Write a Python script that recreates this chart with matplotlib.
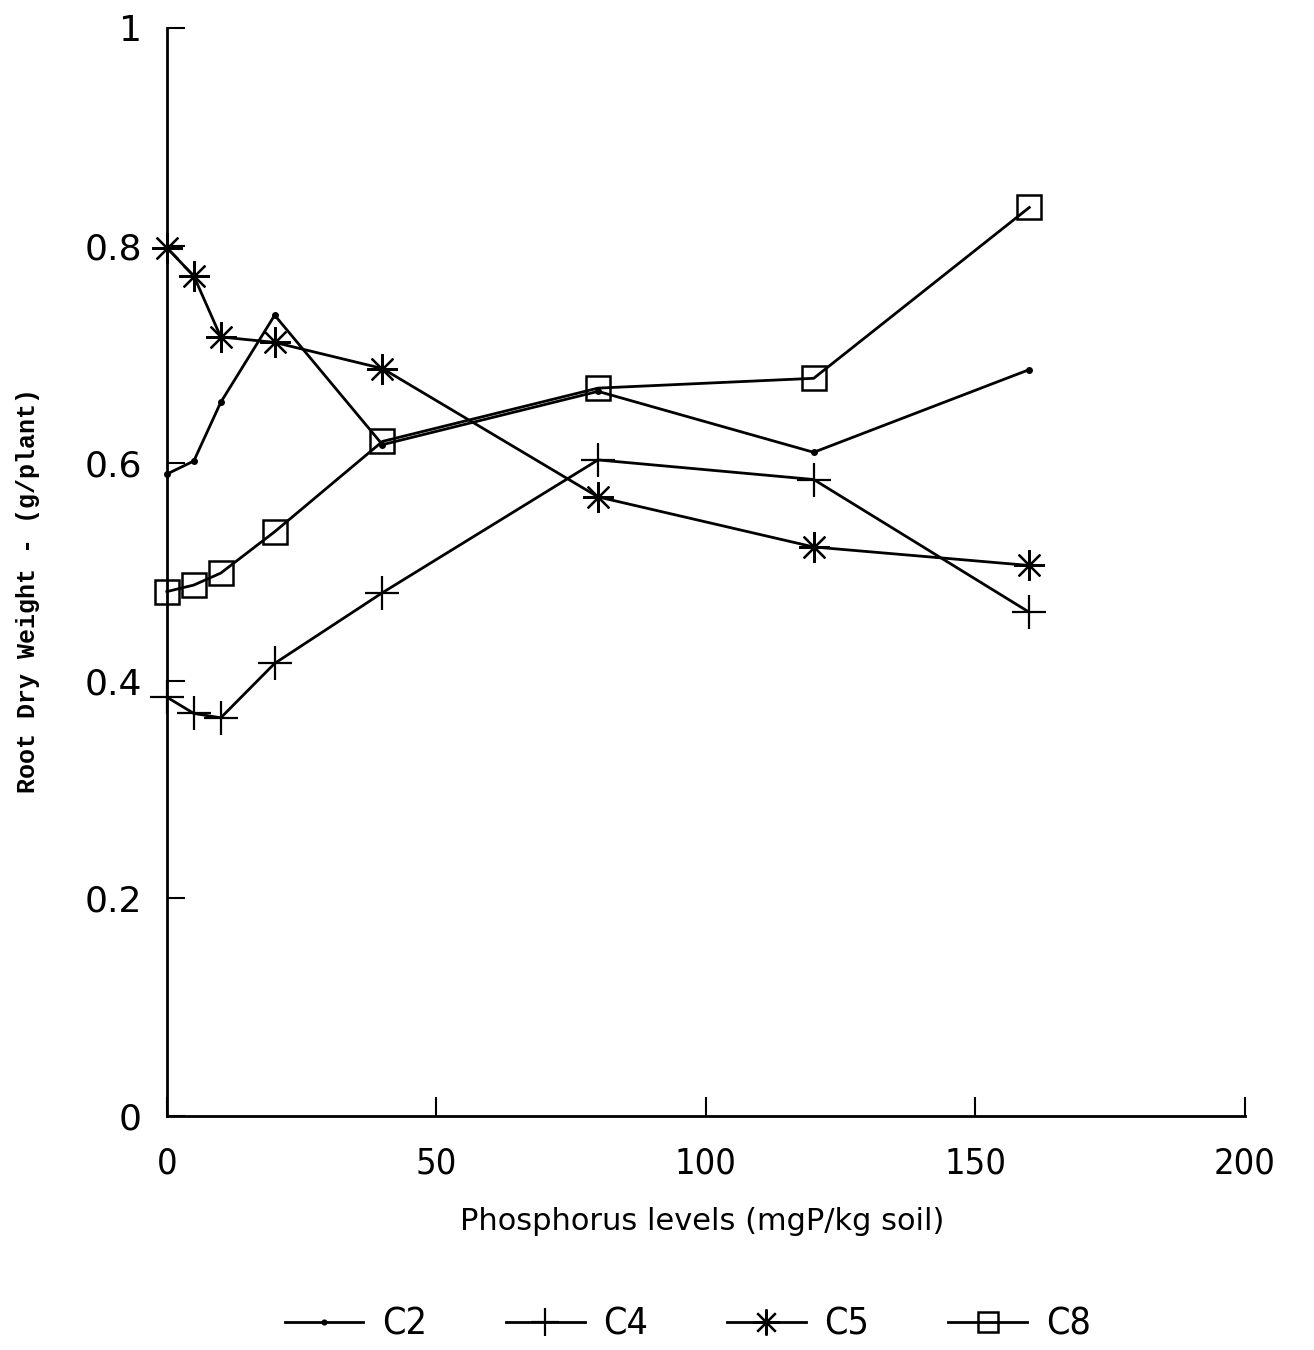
import matplotlib
matplotlib.use('Agg')
from matplotlib import pyplot as plt

# phosphorus levels (mgP/kg soil)
p_levels = [0, 5, 10, 20, 40, 80, 120, 160]

# root dry weight (g/plant) per cultivar
c2 = [0.590, 0.602, 0.656, 0.736, 0.617, 0.666, 0.610, 0.686]
c4 = [0.385, 0.370, 0.366, 0.416, 0.481, 0.603, 0.585, 0.463]
c5 = [0.798, 0.772, 0.716, 0.711, 0.687, 0.569, 0.523, 0.506]
c8 = [0.482, 0.488, 0.499, 0.537, 0.620, 0.669, 0.678, 0.835]

series_names = ['C2', 'C4', 'C5', 'C8']
x_ticks = [0, 50, 100, 150, 200]
y_ticks = [0, 0.2, 0.4, 0.6, 0.8, 1]
y_tick_labels = ['0', '0.2', '0.4', '0.6', '0.8', '1']

narrow = ['Liberation Sans Narrow', 'DejaVu Sans']

fig = plt.figure(figsize=(13.14, 13.5), dpi=100)
axes = fig.add_axes([0.127, 0.1733, 0.8204, 0.806])

styles = [
    dict(marker='o', markersize=4),
    dict(marker='+', markersize=24, markeredgewidth=1.6),
    dict(marker=(8, 2, 0), markersize=22, markeredgewidth=1.6),
    dict(marker='s', markersize=17, markeredgewidth=1.8,
         markerfacecolor='none'),
]
for name, values, style in zip(series_names, [c2, c4, c5, c8], styles):
    axes.plot(p_levels, values, color='black', linewidth=2,
              label=name, clip_on=False, **style)

axes.set_xlim(0, 200)
axes.set_ylim(0, 1)

for side in ['top', 'right']:
    axes.spines[side].set_visible(False)
for side in ['left', 'bottom']:
    axes.spines[side].set_linewidth(2)

axes.set_xticks(x_ticks)
axes.set_xticklabels([str(t) for t in x_ticks], family=narrow,
                     stretch='condensed', fontsize=26)
axes.set_yticks(y_ticks)
axes.set_yticklabels(y_tick_labels, family='DejaVu Sans', fontsize=26)
axes.tick_params(axis='x', direction='in', length=14, width=1.5, pad=22)
axes.tick_params(axis='y', direction='in', length=13, width=1.5, pad=18)

# label axes
axes.set_xlabel("Phosphorus levels (mgP/kg soil)", family='DejaVu Sans',
                fontsize=22)
axes.xaxis.set_label_coords(0.497, -0.084)
axes.set_ylabel("Root Dry Weight - (g/plant)", family='Liberation Mono',
                fontweight='bold', fontsize=18)
axes.yaxis.set_label_coords(-0.118, 0.483)

# legend below the chart
axes.legend(loc='center', bbox_to_anchor=(0.483, -0.192), ncol=4,
            frameon=False,
            prop={'family': narrow, 'stretch': 'condensed', 'size': 27},
            handlelength=2.1, handletextpad=0.5, columnspacing=2.1,
            markerscale=0.85)

plt.savefig('out.png', dpi=100)
